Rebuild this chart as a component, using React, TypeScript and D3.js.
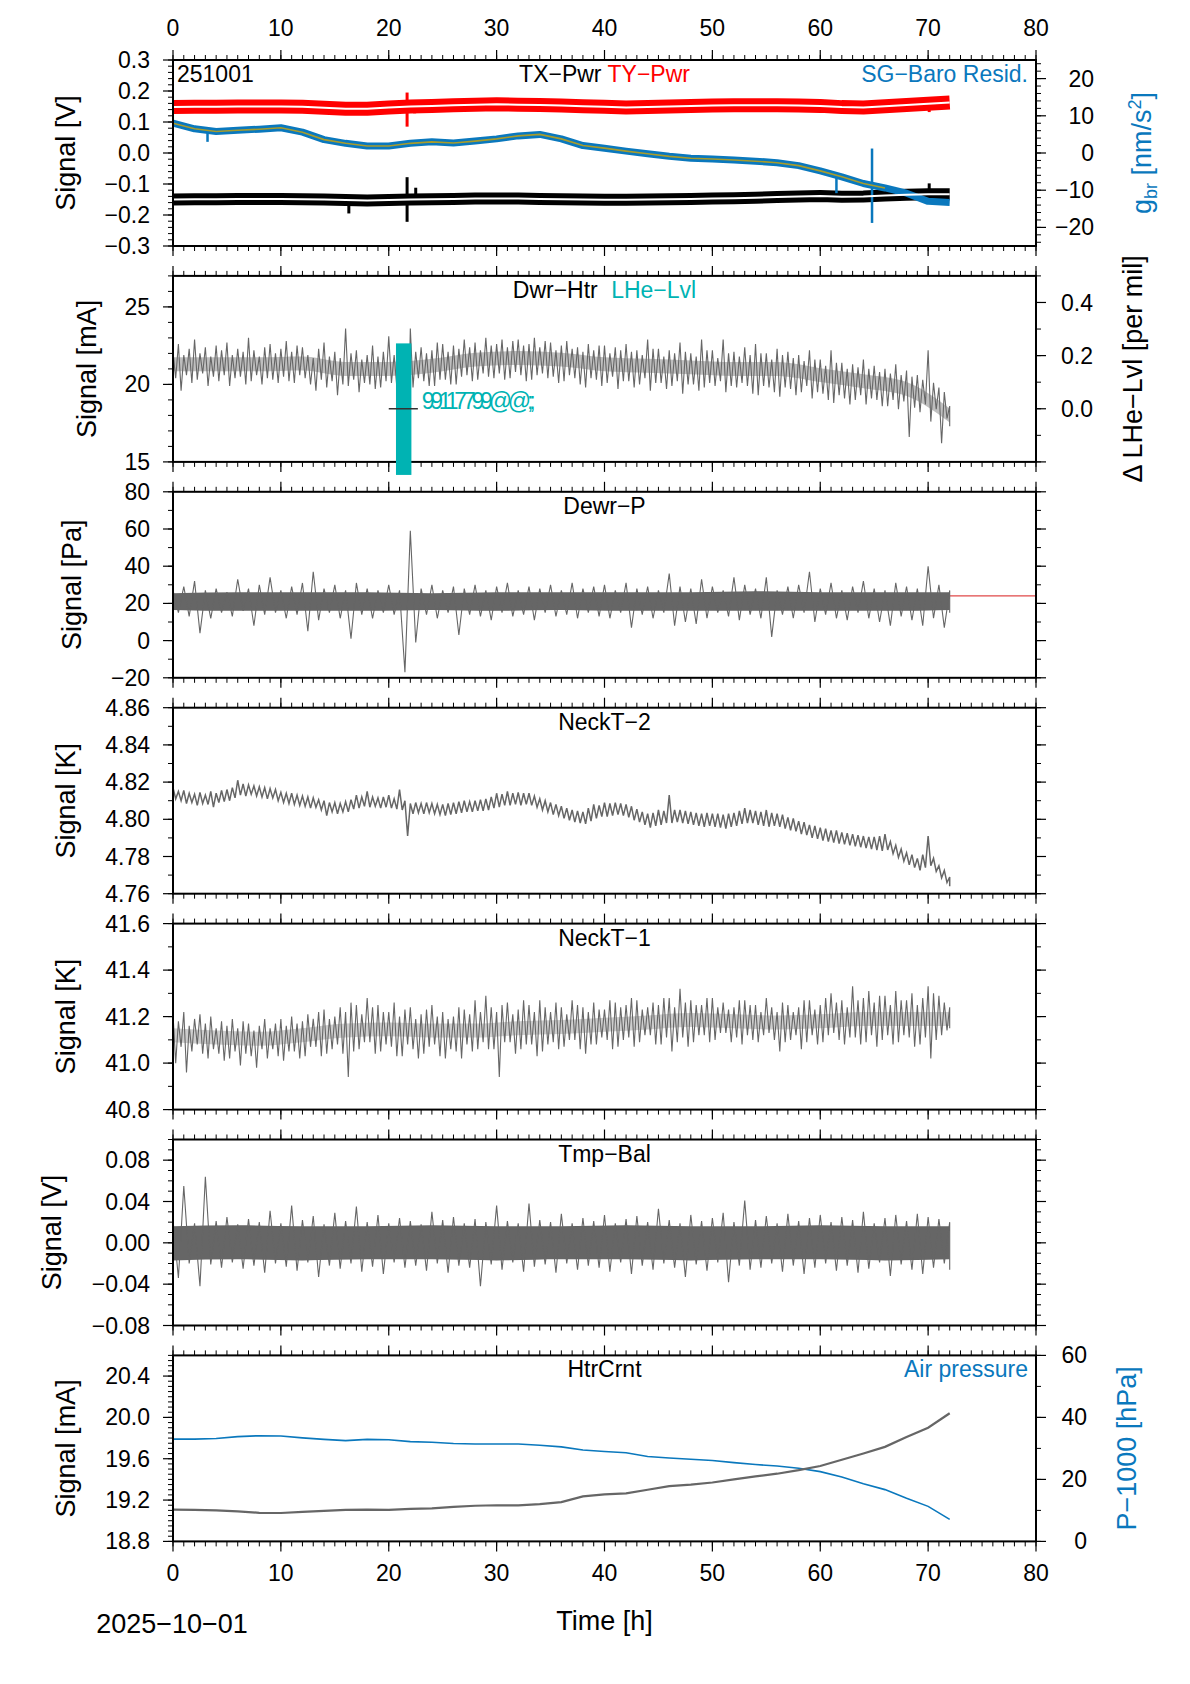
import React from "react";
import * as d3 from "d3";

// ---------------------------------------------------------------- style
const FONT = "'Liberation Sans', Arial, Helvetica, sans-serif";
const TICK_FS = 23;
const TITLE_FS = 23;
const LABEL_FS = 27;
const GRAY = "#666666";
const RED = "#ff0000";
const BLUE = "#0a78bd";
const TEAL = "#00b3b3";
const OLIVE = "#a89c2c";

const W = 1190;
const H = 1684;
const PLOT_L = 173;
const PLOT_R = 1036;
const PANEL_H = 186;
const PANEL_TOP0 = 60;
const PANEL_STEP = 215.9;

// ---------------------------------------------------------------- data
const HOURS_HALF = d3.range(0, 72.01, 0.5);
const HOURS_1 = d3.range(0, 73, 1);
const HOURS_2 = d3.range(0, 73, 2);
const HOURS_4 = d3.range(0, 73, 4);
const HOURS_6 = d3.range(0, 73, 6);
const X_TICK_LABELS = [0, 10, 20, 30, 40, 50, 60, 70, 80];

// Panel 1: TX-Pwr (black), TY-Pwr (red) [V], SG-Baro residual (blue) [nm/s^2], 2 h steps
const tyPwr = [0.148, 0.149, 0.149, 0.150, 0.150, 0.150, 0.149, 0.146, 0.143, 0.143, 0.147, 0.150, 0.152, 0.154, 0.156, 0.157, 0.156, 0.155, 0.153, 0.151, 0.149, 0.147, 0.148, 0.150, 0.152, 0.153, 0.154, 0.154, 0.154, 0.153, 0.152, 0.148, 0.147, 0.151, 0.155, 0.159, 0.163];
const txPwr = [-0.150, -0.149, -0.149, -0.148, -0.148, -0.148, -0.149, -0.150, -0.152, -0.153, -0.152, -0.150, -0.149, -0.148, -0.147, -0.147, -0.147, -0.148, -0.149, -0.150, -0.151, -0.151, -0.150, -0.149, -0.148, -0.147, -0.146, -0.144, -0.142, -0.140, -0.139, -0.141, -0.140, -0.137, -0.135, -0.133, -0.133];
const gbrResid = [8.0, 6.5, 5.8, 6.1, 6.4, 6.8, 5.6, 3.6, 2.6, 1.9, 1.9, 2.6, 3.0, 2.7, 3.2, 3.8, 4.6, 5.0, 3.8, 2.0, 1.3, 0.5, -0.2, -0.9, -1.4, -1.6, -1.9, -2.2, -2.6, -3.4, -4.8, -6.4, -8.2, -9.4, -10.8, -13.0, -13.3];
const GBR_SMOOTH_END = 66;
const tyPwrSpikes = [
  { t: 21.7, lo: 0.085, hi: 0.195 },
  { t: 22.4, lo: 0.128, hi: 0.165 },
  { t: 45.8, lo: 0.133, hi: 0.16 },
  { t: 70.1, lo: 0.132, hi: 0.175 },
];
const txPwrSpikes = [
  { t: 16.3, lo: -0.195, hi: -0.14 },
  { t: 21.7, lo: -0.222, hi: -0.078 },
  { t: 22.5, lo: -0.165, hi: -0.112 },
  { t: 70.1, lo: -0.15, hi: -0.098 },
];
const gbrSpikes = [
  { t: 3.2, lo: 3.0, hi: 6.0 },
  { t: 61.5, lo: -10.8, hi: -5.5 },
  { t: 64.8, lo: -18.8, hi: 1.2 },
];

// Panel 2: Dwr-Htr [mA] envelope, 0.5 h steps, dense core every 4 h; LHe-Lvl [per mil]
const dwrHi = [
  22.1, 22.6, 21.9, 22.3, 22.9, 22.0, 22.4, 21.8, 22.5, 22.2,
  22.7, 21.9, 22.3, 22.1, 23.0, 22.2, 21.8, 22.4, 22.6, 22.0,
  22.3, 22.8, 22.1, 22.5, 22.4, 21.9, 21.7, 22.3, 22.7, 21.8,
  22.1, 21.7, 23.6, 22.0, 22.2, 21.6, 21.9, 22.5, 21.8, 22.1,
  23.1, 21.9, 22.3, 21.8, 23.6, 22.1, 22.4, 22.0, 22.2, 22.7,
  22.6, 22.1, 22.5, 22.3, 22.9, 22.4, 22.7, 22.2, 23.0, 22.5,
  22.6, 22.9, 22.4, 22.8, 22.9, 22.5, 22.6, 23.0, 22.4, 22.8,
  22.7, 22.2, 22.5, 22.8, 22.3, 22.4, 22.1, 22.6, 22.2, 22.5,
  22.5, 22.0, 22.4, 22.2, 22.6, 22.1, 22.2, 21.9, 22.9, 22.3,
  22.3, 21.8, 22.2, 22.0, 22.7, 22.1, 22.0, 21.8, 22.9, 22.2,
  22.2, 21.7, 22.9, 22.0, 22.1, 21.8, 22.4, 21.9, 22.6, 22.0,
  22.0, 21.6, 22.3, 21.9, 22.1, 21.7, 21.9, 21.5, 22.2, 21.6,
  21.6, 21.2, 22.2, 21.4, 21.4, 21.0, 21.3, 21.1, 21.6, 21.0,
  21.2, 20.8, 21.0, 20.7, 21.3, 20.6, 20.9, 20.5, 20.6, 20.3,
  22.2, 20.1, 19.8, 19.5, 18.6];
const dwrLo = [
  20.4, 19.6, 20.6, 20.1, 20.3, 20.7, 19.9, 20.5, 20.2, 20.6,
  19.9, 20.4, 20.5, 20.0, 20.2, 20.6, 20.0, 20.4, 20.3, 20.1,
  20.5, 20.2, 20.1, 20.6, 20.4, 20.0, 19.6, 20.3, 19.8, 20.2,
  19.3, 20.0, 19.9, 20.3, 19.5, 20.1, 20.0, 19.7, 19.8, 20.2,
  20.1, 19.8, 20.3, 15.4, 19.8, 20.4, 20.2, 19.9, 19.9, 20.3,
  20.3, 20.0, 20.0, 20.5, 20.6, 20.2, 20.3, 20.7, 20.5, 20.4,
  20.7, 20.3, 20.4, 20.8, 20.6, 20.2, 20.3, 20.6, 20.7, 20.4,
  20.5, 20.1, 20.2, 20.6, 20.4, 20.0, 19.8, 20.4, 20.3, 19.9,
  20.1, 20.5, 19.7, 20.2, 20.2, 19.8, 20.0, 20.4, 19.6, 20.1,
  20.1, 19.7, 19.9, 20.2, 19.4, 20.0, 20.0, 19.6, 19.8, 20.1,
  19.9, 20.2, 19.5, 19.9, 19.8, 20.1, 19.9, 19.4, 19.3, 19.9,
  19.8, 19.5, 19.2, 19.8, 19.7, 19.3, 19.5, 19.9, 19.1, 19.5,
  19.4, 19.0, 18.8, 19.3, 19.1, 18.7, 19.0, 19.3, 18.7, 19.1,
  19.0, 18.6, 18.6, 19.0, 18.4, 18.9, 16.6, 18.5, 18.2, 18.7,
  17.6, 18.4, 16.2, 17.8, 17.3];
const dwrCoreHi = [21.75, 21.75, 21.75, 21.8, 21.45, 21.45, 21.65, 22.05, 22.15, 22.05, 21.75, 21.65, 21.55, 21.45, 21.45, 21.05, 20.65, 20.15, 18.45];
const dwrCoreLo = [20.85, 20.85, 20.85, 20.9, 20.55, 20.55, 20.75, 21.15, 21.25, 21.15, 20.85, 20.75, 20.65, 20.55, 20.55, 20.15, 19.75, 19.25, 17.55];
const lheBarT = [20.67, 22.1];
const lheBarV = [0.246, -0.249];
const lheMarkT = [20.0, 22.7];
const lheMarkV = 0.0;
const lheText = { t: 23.05, v: 0.0, label: "99117799@@;;" };

// Panel 3: Dewr-P [Pa] envelope, 1 h steps, dense core every 6 h, reference level
const dewrHi = [27, 29, 32, 27, 28, 26, 33, 28, 30, 34,
  27, 29, 31, 37, 28, 30, 27, 31, 28, 27,
  30, 27, 59, 28, 30, 27, 29, 28, 30, 27,
  29, 31, 27, 29, 28, 30, 27, 31, 28, 29,
  30, 27, 31, 28, 29, 27, 36, 29, 28, 33,
  29, 27, 34, 30, 28, 34, 27, 29, 30, 37,
  28, 31, 27, 29, 32, 28, 27, 31, 29, 28,
  40, 30, 27];
const dewrLo = [15, 13, 4, 12, 15, 13, 16, 8, 14, 15,
  12, 14, 5, 11, 15, 12, 1, 14, 12, 15,
  14, -17, -1, 14, 12, 15, 3, 14, 13, 11,
  15, 13, 14, 11, 15, 13, 14, 12, 15, 13,
  12, 15, 7, 14, 12, 15, 8, 10, 9, 12,
  15, 13, 11, 14, 12, 2, 14, 12, 15, 10,
  14, 12, 11, 15, 12, 10, 8, 13, 11, 8,
  12, 7, 15];
const dewrCoreHi = [25.5, 26, 26, 26, 25.5, 26, 26, 26, 26, 26.5, 26, 26, 26];
const dewrCoreLo = [16.5, 16, 16, 16, 16.5, 16, 16.5, 16, 16, 16, 16, 16, 16.5];
const dewrRefT = [0, 80];
const dewrRefV = [24, 24];

// Panel 4: NeckT-2 [K] envelope, 0.5 h steps
const neckT2Hi = [
  4.8170, 4.8150, 4.8155, 4.8140, 4.8135, 4.8145, 4.8130, 4.8150, 4.8140, 4.8155,
  4.8160, 4.8170, 4.8210, 4.8190, 4.8185, 4.8180, 4.8175, 4.8170, 4.8165, 4.8160,
  4.8145, 4.8140, 4.8140, 4.8130, 4.8125, 4.8120, 4.8115, 4.8105, 4.8100, 4.8090,
  4.8090, 4.8085, 4.8095, 4.8105, 4.8130, 4.8120, 4.8150, 4.8120, 4.8115, 4.8120,
  4.8130, 4.8110, 4.8160, 4.8100, 4.8085, 4.8090, 4.8085, 4.8090, 4.8085, 4.8080,
  4.8080, 4.8085, 4.8090, 4.8095, 4.8100, 4.8095, 4.8100, 4.8105, 4.8110, 4.8120,
  4.8140, 4.8135, 4.8150, 4.8140, 4.8145, 4.8140, 4.8140, 4.8125, 4.8110, 4.8100,
  4.8090, 4.8080, 4.8070, 4.8060, 4.8050, 4.8045, 4.8040, 4.8060, 4.8080, 4.8075,
  4.8090, 4.8085, 4.8090, 4.8085, 4.8080, 4.8070, 4.8055, 4.8040, 4.8030, 4.8035,
  4.8050, 4.8045, 4.8130, 4.8050, 4.8050, 4.8045, 4.8040, 4.8035, 4.8030, 4.8035,
  4.8030, 4.8030, 4.8025, 4.8030, 4.8035, 4.8045, 4.8060, 4.8050, 4.8045, 4.8040,
  4.8050, 4.8035, 4.8030, 4.8025, 4.8010, 4.8005, 4.7990, 4.7985, 4.7970, 4.7965,
  4.7955, 4.7950, 4.7940, 4.7940, 4.7930, 4.7925, 4.7920, 4.7915, 4.7910, 4.7905,
  4.7905, 4.7910, 4.7920, 4.7880, 4.7860, 4.7840, 4.7820, 4.7810, 4.7790, 4.7810,
  4.7910, 4.7790, 4.7750, 4.7725, 4.7690];
const neckT2Lo = [
  4.8110, 4.8100, 4.8085, 4.8090, 4.8075, 4.8085, 4.8080, 4.8065, 4.8090, 4.8095,
  4.8100, 4.8115, 4.8130, 4.8125, 4.8135, 4.8125, 4.8120, 4.8110, 4.8115, 4.8100,
  4.8090, 4.8085, 4.8080, 4.8075, 4.8070, 4.8060, 4.8065, 4.8050, 4.8020, 4.8040,
  4.8030, 4.8040, 4.8040, 4.8055, 4.8060, 4.8070, 4.8065, 4.8070, 4.8060, 4.8065,
  4.8060, 4.8055, 4.8050, 4.7910, 4.8030, 4.8035, 4.8030, 4.8035, 4.8030, 4.8025,
  4.8020, 4.8025, 4.8030, 4.8035, 4.8040, 4.8040, 4.8045, 4.8045, 4.8050, 4.8060,
  4.8065, 4.8075, 4.8075, 4.8080, 4.8075, 4.8080, 4.8075, 4.8065, 4.8050, 4.8040,
  4.8025, 4.8020, 4.8005, 4.7995, 4.7985, 4.7980, 4.7975, 4.7990, 4.8005, 4.8015,
  4.8015, 4.8020, 4.8025, 4.8020, 4.8010, 4.7995, 4.7985, 4.7970, 4.7955, 4.7965,
  4.7970, 4.7980, 4.7980, 4.7985, 4.7980, 4.7975, 4.7970, 4.7965, 4.7960, 4.7965,
  4.7960, 4.7955, 4.7950, 4.7960, 4.7965, 4.7975, 4.7980, 4.7980, 4.7970, 4.7965,
  4.7960, 4.7965, 4.7960, 4.7950, 4.7940, 4.7935, 4.7920, 4.7915, 4.7900, 4.7895,
  4.7885, 4.7880, 4.7875, 4.7870, 4.7865, 4.7860, 4.7855, 4.7850, 4.7845, 4.7840,
  4.7835, 4.7830, 4.7835, 4.7815, 4.7795, 4.7775, 4.7755, 4.7740, 4.7725, 4.7740,
  4.7750, 4.7720, 4.7685, 4.7660, 4.7640];

// Panel 5: NeckT-1 [K] envelope, 0.5 h steps, dense core every 4 h
const neckT1Hi = [
  41.21, 41.18, 41.22, 41.16, 41.19, 41.21, 41.17, 41.20, 41.15, 41.18,
  41.16, 41.19, 41.15, 41.18, 41.17, 41.14, 41.16, 41.19, 41.15, 41.17,
  41.19, 41.16, 41.20, 41.17, 41.18, 41.21, 41.19, 41.22, 41.23, 41.19,
  41.20, 41.24, 41.22, 41.26, 41.25, 41.21, 41.28, 41.24, 41.25, 41.22,
  41.22, 41.26, 41.20, 41.23, 41.24, 41.19, 41.21, 41.23, 41.25, 41.20,
  41.22, 41.19, 41.20, 41.24, 41.23, 41.21, 41.27, 41.22, 41.29, 41.24,
  41.22, 41.25, 41.26, 41.21, 41.23, 41.27, 41.25, 41.22, 41.27, 41.24,
  41.22, 41.26, 41.24, 41.21, 41.27, 41.25, 41.24, 41.22, 41.26, 41.23,
  41.23, 41.27, 41.26, 41.24, 41.25, 41.28, 41.27, 41.23, 41.24, 41.26,
  41.25, 41.28, 41.28, 41.24, 41.32, 41.26, 41.27, 41.25, 41.25, 41.28,
  41.28, 41.24, 41.26, 41.23, 41.24, 41.27, 41.27, 41.25, 41.25, 41.22,
  41.28, 41.24, 41.22, 41.26, 41.25, 41.22, 41.24, 41.27, 41.27, 41.23,
  41.25, 41.28, 41.30, 41.26, 41.27, 41.24, 41.33, 41.27, 41.28, 41.31,
  41.26, 41.29, 41.29, 41.25, 41.31, 41.27, 41.27, 41.30, 41.25, 41.28,
  41.33, 41.30, 41.29, 41.26, 41.24];
const neckT1Lo = [
  41.00, 41.07, 40.96, 41.05, 41.08, 41.04, 41.02, 41.06, 41.04, 41.01,
  41.02, 41.05, 40.99, 41.04, 41.03, 40.98, 41.06, 41.02, 41.06, 41.03,
  41.01, 41.05, 41.05, 41.02, 41.03, 41.07, 41.07, 41.03, 41.04, 41.06,
  41.08, 41.04, 40.94, 41.05, 41.06, 41.09, 41.09, 41.04, 41.05, 41.08,
  41.07, 41.03, 41.03, 41.08, 41.06, 41.02, 41.04, 41.07, 41.08, 41.03,
  41.02, 41.06, 41.05, 41.02, 41.08, 41.05, 41.06, 41.09, 41.06, 41.06,
  40.94, 41.09, 41.09, 41.04, 41.06, 41.08, 41.08, 41.03, 41.05, 41.08,
  41.09, 41.06, 41.07, 41.10, 41.10, 41.06, 41.04, 41.08, 41.08, 41.11,
  41.10, 41.06, 41.07, 41.10, 41.11, 41.07, 41.09, 41.12, 41.12, 41.08,
  41.08, 41.11, 41.05, 41.09, 41.11, 41.07, 41.09, 41.12, 41.12, 41.09,
  41.10, 41.13, 41.13, 41.09, 41.11, 41.08, 41.12, 41.10, 41.09, 41.12,
  41.13, 41.10, 41.05, 41.09, 41.10, 41.12, 41.06, 41.09, 41.12, 41.08,
  41.09, 41.12, 41.13, 41.10, 41.08, 41.11, 41.11, 41.08, 41.09, 41.12,
  41.07, 41.10, 41.12, 41.08, 41.09, 41.12, 41.11, 41.07, 41.08, 41.11,
  41.02, 41.10, 41.12, 41.14, 41.15];
const neckT1CoreHi = [41.15, 41.14, 41.135, 41.15, 41.17, 41.175, 41.17, 41.17, 41.18, 41.185, 41.195, 41.205, 41.215, 41.21, 41.205, 41.21, 41.22, 41.22, 41.22];
const neckT1CoreLo = [41.09, 41.08, 41.075, 41.09, 41.11, 41.115, 41.11, 41.11, 41.12, 41.125, 41.135, 41.145, 41.155, 41.15, 41.145, 41.15, 41.16, 41.16, 41.16];

// Panel 6: Tmp-Bal [V] envelope, 1 h steps, dense core every 6 h
const tmpHi = [0.022, 0.055, 0.019, 0.064, 0.021, 0.025, 0.018, 0.023, 0.020, 0.031,
  0.019, 0.036, 0.022, 0.026, 0.018, 0.029, 0.021, 0.035, 0.020, 0.027,
  0.019, 0.024, 0.021, 0.018, 0.030, 0.022, 0.025, 0.019, 0.023, 0.020,
  0.036, 0.021, 0.019, 0.038, 0.022, 0.020, 0.028, 0.019, 0.024, 0.021,
  0.027, 0.019, 0.023, 0.026, 0.020, 0.033, 0.022, 0.019, 0.027, 0.021,
  0.024, 0.029, 0.020, 0.041, 0.022, 0.026, 0.019, 0.028, 0.021, 0.024,
  0.027, 0.020, 0.025, 0.022, 0.030, 0.019, 0.024, 0.027, 0.021, 0.028,
  0.025, 0.023, 0.020];
const tmpLo = [-0.034, -0.020, -0.042, -0.021, -0.024, -0.019, -0.025, -0.022, -0.029, -0.020,
  -0.023, -0.027, -0.019, -0.033, -0.022, -0.025, -0.020, -0.028, -0.023, -0.030,
  -0.019, -0.024, -0.022, -0.027, -0.020, -0.029, -0.022, -0.024, -0.042, -0.021,
  -0.026, -0.019, -0.028, -0.023, -0.021, -0.029, -0.020, -0.026, -0.022, -0.024,
  -0.028, -0.019, -0.030, -0.022, -0.026, -0.020, -0.024, -0.033, -0.021, -0.027,
  -0.019, -0.038, -0.022, -0.026, -0.024, -0.020, -0.028, -0.022, -0.030, -0.024,
  -0.020, -0.027, -0.022, -0.029, -0.025, -0.019, -0.032, -0.021, -0.026, -0.030,
  -0.024, -0.020, -0.026];
const tmpCoreHi = [0.016, 0.017, 0.016, 0.016, 0.017, 0.016, 0.016, 0.017, 0.016, 0.016, 0.017, 0.016, 0.016];
const tmpCoreLo = [-0.017, -0.016, -0.017, -0.016, -0.016, -0.017, -0.016, -0.016, -0.017, -0.016, -0.016, -0.017, -0.016];

// Panel 7: HtrCrnt [mA] and air pressure P-1000 [hPa], 2 h steps
const htrCrnt = [19.108, 19.105, 19.100, 19.090, 19.077, 19.075, 19.085, 19.095, 19.105, 19.108, 19.105, 19.115, 19.120, 19.135, 19.145, 19.150, 19.148, 19.160, 19.180, 19.235, 19.255, 19.265, 19.300, 19.335, 19.350, 19.370, 19.400, 19.430, 19.455, 19.490, 19.530, 19.590, 19.650, 19.715, 19.810, 19.900, 20.040];
const airPressure = [33.0, 33.0, 33.2, 33.8, 34.1, 34.0, 33.4, 32.9, 32.5, 32.9, 32.8, 32.2, 32.0, 31.6, 31.4, 31.4, 31.4, 31.0, 30.5, 29.5, 29.0, 28.6, 27.4, 26.9, 26.5, 26.1, 25.4, 24.8, 24.3, 23.6, 22.5, 20.8, 18.6, 16.7, 13.9, 11.3, 7.1];

// y-axis tick labels
const P1_LEFT_LABELS = [0.3, 0.2, 0.1, 0, -0.1, -0.2, -0.3];
const P1_RIGHT_LABELS = [20, 10, 0, -10, -20];
const P2_LEFT_LABELS = [25, 20, 15];
const P2_RIGHT_LABELS = [0.4, 0.2, 0.0];
const P3_LABELS = [80, 60, 40, 20, 0, -20];
const P4_LABELS = [4.86, 4.84, 4.82, 4.80, 4.78, 4.76];
const P5_LABELS = [41.6, 41.4, 41.2, 41.0, 40.8];
const P6_LABELS = [0.08, 0.04, 0.0, -0.04, -0.08];
const P7_LEFT_LABELS = [20.4, 20.0, 19.6, 19.2, 18.8];
const P7_RIGHT_LABELS = [60, 40, 20, 0];

// ---------------------------------------------------------------- helpers
type Pt = [number, number];
const zip = (t: number[], v: number[]): Pt[] => t.map((ti, i) => [ti, v[i]] as Pt);
// envelope drawn as a saw line: max of a step at its start, min half a step later
const zigzag = (t: number[], hi: number[], lo: number[], half: number): Pt[] =>
  t.flatMap((ti, i) => [[ti, hi[i]] as Pt, [i < t.length - 1 ? ti + half : ti, lo[i]] as Pt]);
const multiples = (d0: number, d1: number, step: number) => {
  const a = Math.min(d0, d1), b = Math.max(d0, d1);
  const k0 = Math.ceil(a / step - 1e-6), k1 = Math.floor(b / step + 1e-6);
  return d3.range(k0, k1 + 1).map((k) => +(k * step).toFixed(8));
};

const xScale = d3.scaleLinear().domain([0, 80]).range([PLOT_L, PLOT_R]);
const panelTop = (i: number) => PANEL_TOP0 + i * PANEL_STEP;
const yScale = (i: number, dom: [number, number]) =>
  d3.scaleLinear().domain(dom).range([panelTop(i) + PANEL_H, panelTop(i)]);

function linePath(pts: Pt[], y: d3.ScaleLinear<number, number>) {
  return d3.line<Pt>().x((d) => xScale(d[0])).y((d) => y(d[1]))(pts) || "";
}
function areaPath(t: number[], hi: number[], lo: number[], y: d3.ScaleLinear<number, number>) {
  return (
    d3
      .area<number>()
      .x((d) => xScale(d))
      .y0((_, i) => y(lo[i]))
      .y1((_, i) => y(hi[i]))
      .curve(d3.curveMonotoneX)(t) || ""
  );
}

function YAxis(props: {
  y: d3.ScaleLinear<number, number>;
  side: "left" | "right";
  major: number;
  minor: number;
  labels?: number[];
  fmt?: (v: number) => string;
  labelX?: number;
}) {
  const { y, side, major, minor, labels, fmt, labelX } = props;
  const x0 = side === "left" ? PLOT_L : PLOT_R;
  const dir = side === "left" ? -1 : 1;
  const [d0, d1] = y.domain();
  return (
    <g>
      {multiples(d0, d1, minor).map((v) => (
        <line key={"mi" + v} x1={x0} x2={x0 + dir * 5} y1={y(v)} y2={y(v)} stroke="#000" strokeWidth={1} />
      ))}
      {multiples(d0, d1, major).map((v) => (
        <line key={"ma" + v} x1={x0} x2={x0 + dir * 10} y1={y(v)} y2={y(v)} stroke="#000" strokeWidth={1.2} />
      ))}
      {labels &&
        fmt &&
        labels.map((v) => (
          <text key={"lb" + v} x={labelX} y={y(v)} dy="0.35em" textAnchor="end" fontSize={TICK_FS}>
            {fmt(v)}
          </text>
        ))}
    </g>
  );
}

function XTicks({ top }: { top: number }) {
  const bottom = top + PANEL_H;
  const minors = multiples(0, 80, 1);
  const majors = multiples(0, 80, 10);
  return (
    <g>
      {minors.map((v) => (
        <g key={"xm" + v}>
          <line x1={xScale(v)} x2={xScale(v)} y1={top} y2={top - 5} stroke="#000" strokeWidth={1} />
          <line x1={xScale(v)} x2={xScale(v)} y1={bottom} y2={bottom + 5} stroke="#000" strokeWidth={1} />
        </g>
      ))}
      {majors.map((v) => (
        <g key={"xM" + v}>
          <line x1={xScale(v)} x2={xScale(v)} y1={top} y2={top - 10} stroke="#000" strokeWidth={1.2} />
          <line x1={xScale(v)} x2={xScale(v)} y1={bottom} y2={bottom + 10} stroke="#000" strokeWidth={1.2} />
        </g>
      ))}
    </g>
  );
}

function Frame({ top }: { top: number }) {
  return <rect x={PLOT_L} y={top} width={PLOT_R - PLOT_L} height={PANEL_H} fill="none" stroke="#000" strokeWidth={2} />;
}

function LeftLabel({ i, x, text }: { i: number; x: number; text: string }) {
  const cy = panelTop(i) + PANEL_H / 2;
  return (
    <text transform={`translate(${x},${cy}) rotate(-90)`} textAnchor="middle" dy="0.35em" fontSize={LABEL_FS}>
      {text}
    </text>
  );
}

function Title({ i, children }: { i: number; children: React.ReactNode }) {
  return (
    <text x={(PLOT_L + PLOT_R) / 2} y={panelTop(i) + 22} textAnchor="middle" fontSize={TITLE_FS}>
      {children}
    </text>
  );
}

const f1 = d3.format(".1f");
const f2 = d3.format(".2f");
const fd = d3.format("d");

// ---------------------------------------------------------------- app
export default function App() {
  const tops = d3.range(7).map(panelTop);

  const y1L = yScale(0, [-0.3, 0.3]);
  const y1R = yScale(0, [-25, 25]);
  const y2L = yScale(1, [15, 27]);
  const y2R = yScale(1, [-0.2, 0.5]);
  const y3 = yScale(2, [-20, 80]);
  const y4 = yScale(3, [4.76, 4.86]);
  const y5 = yScale(4, [40.8, 41.6]);
  const y6 = yScale(5, [-0.08, 0.1]);
  const y7L = yScale(6, [18.8, 20.6]);
  const y7R = yScale(6, [0, 60]);

  const gbrPts = zip(HOURS_2, gbrResid);
  const gbrSmooth = gbrPts.filter((p) => p[0] <= GBR_SMOOTH_END);

  const spikeLines = (
    sp: { t: number; lo: number; hi: number }[],
    y: d3.ScaleLinear<number, number>,
    color: string,
    w: number
  ) =>
    sp.map((s, k) => (
      <line key={k} x1={xScale(s.t)} x2={xScale(s.t)} y1={y(s.lo)} y2={y(s.hi)} stroke={color} strokeWidth={w} />
    ));

  return (
    <svg
      width={W}
      height={H}
      viewBox={`0 0 ${W} ${H}`}
      style={{ position: "absolute", left: 0, top: 0, display: "block", background: "#fff" }}
      fontFamily={FONT}
    >
      <rect x={0} y={0} width={W} height={H} fill="#fff" />
      <defs>
        {tops.map((t, i) => (
          <clipPath id={"clip" + i} key={i}>
            <rect x={PLOT_L} y={t} width={PLOT_R - PLOT_L} height={PANEL_H} />
          </clipPath>
        ))}
      </defs>

      {/* ---------------- Panel 1 */}
      <g clipPath="url(#clip0)">
        <path d={linePath(zip(HOURS_2, tyPwr), y1L)} fill="none" stroke={RED} strokeWidth={14} strokeLinejoin="round" />
        {spikeLines(tyPwrSpikes, y1L, RED, 3)}
        <path d={linePath(zip(HOURS_2, txPwr), y1L)} fill="none" stroke="#000" strokeWidth={12} strokeLinejoin="round" />
        {spikeLines(txPwrSpikes, y1L, "#000", 3)}
        <path d={linePath(gbrPts, y1R)} fill="none" stroke={BLUE} strokeWidth={7} strokeLinejoin="round" />
        {spikeLines(gbrSpikes, y1R, BLUE, 2.5)}
        <path d={linePath(zip(HOURS_2, tyPwr), y1L)} fill="none" stroke="#fff" strokeWidth={2} />
        <path d={linePath(zip(HOURS_2, txPwr), y1L)} fill="none" stroke="#fff" strokeWidth={2} />
        <path d={linePath(gbrSmooth, y1R)} fill="none" stroke={OLIVE} strokeWidth={1.6} />
      </g>
      <text x={177} y={tops[0] + 22} fontSize={TITLE_FS}>251001</text>
      <Title i={0}>
        <tspan fill="#000">TX−Pwr</tspan>
        <tspan fill={RED}>{" TY−Pwr"}</tspan>
      </Title>
      <text x={1028} y={tops[0] + 22} textAnchor="end" fontSize={TITLE_FS} fill={BLUE}>SG−Baro Resid.</text>
      <YAxis y={y1L} side="left" major={0.1} minor={0.02} labels={P1_LEFT_LABELS} fmt={f1} labelX={150} />
      <YAxis y={y1R} side="right" major={10} minor={2} labels={P1_RIGHT_LABELS} fmt={fd} labelX={1094} />
      <LeftLabel i={0} x={66} text="Signal [V]" />
      <text
        transform={`translate(1142,${tops[0] + PANEL_H / 2}) rotate(-90)`}
        textAnchor="middle"
        dy="0.35em"
        fontSize={LABEL_FS}
        fill={BLUE}
      >
        <tspan>g</tspan>
        <tspan dy={6} fontSize={18}>br</tspan>
        <tspan dy={-6}>{" [nm/s"}</tspan>
        <tspan dy={-10} fontSize={18}>2</tspan>
        <tspan dy={10}>]</tspan>
      </text>

      {/* ---------------- Panel 2 */}
      <g clipPath="url(#clip1)">
        <path d={areaPath(HOURS_4, dwrCoreHi, dwrCoreLo, y2L)} fill={GRAY} fillOpacity={0.42} stroke="none" />
        <path d={linePath(zigzag(HOURS_HALF, dwrHi, dwrLo, 0.25), y2L)} fill="none" stroke={GRAY} strokeWidth={1.1} />
      </g>
      <Title i={1}>
        <tspan fill="#000">Dwr−Htr</tspan>
        <tspan fill={TEAL} dx={7}>{" LHe−Lvl"}</tspan>
      </Title>
      <YAxis y={y2L} side="left" major={5} minor={1} labels={P2_LEFT_LABELS} fmt={fd} labelX={150} />
      <YAxis y={y2R} side="right" major={0.2} minor={0.1} labels={P2_RIGHT_LABELS} fmt={f1} labelX={1093} />
      <LeftLabel i={1} x={87} text="Signal [mA]" />
      <text
        transform={`translate(1133,${tops[1] + PANEL_H / 2}) rotate(-90)`}
        textAnchor="middle"
        dy="0.35em"
        fontSize={LABEL_FS}
      >
        Δ LHe−Lvl [per mil]
      </text>

      {/* ---------------- Panel 3 */}
      <g clipPath="url(#clip2)">
        <path d={linePath(zip(dewrRefT, dewrRefV), y3)} fill="none" stroke="#e04848" strokeWidth={1.3} />
        <path d={areaPath(HOURS_6, dewrCoreHi, dewrCoreLo, y3)} fill={GRAY} stroke="none" />
        <path d={linePath(zigzag(HOURS_1, dewrHi, dewrLo, 0.5), y3)} fill="none" stroke={GRAY} strokeWidth={1.1} />
      </g>
      <Title i={2}>Dewr−P</Title>
      <YAxis y={y3} side="left" major={20} minor={10} labels={P3_LABELS} fmt={fd} labelX={150} />
      <YAxis y={y3} side="right" major={20} minor={10} />
      <LeftLabel i={2} x={72} text="Signal [Pa]" />

      {/* ---------------- Panel 4 */}
      <g clipPath="url(#clip3)">
        <path d={linePath(zigzag(HOURS_HALF, neckT2Hi, neckT2Lo, 0.25), y4)} fill="none" stroke={GRAY} strokeWidth={1.5} />
      </g>
      <Title i={3}>NeckT−2</Title>
      <YAxis y={y4} side="left" major={0.02} minor={0.01} labels={P4_LABELS} fmt={f2} labelX={150} />
      <YAxis y={y4} side="right" major={0.02} minor={0.01} />
      <LeftLabel i={3} x={66} text="Signal [K]" />

      {/* ---------------- Panel 5 */}
      <g clipPath="url(#clip4)">
        <path d={areaPath(HOURS_4, neckT1CoreHi, neckT1CoreLo, y5)} fill={GRAY} fillOpacity={0.32} stroke="none" />
        <path d={linePath(zigzag(HOURS_HALF, neckT1Hi, neckT1Lo, 0.25), y5)} fill="none" stroke={GRAY} strokeWidth={1.1} />
      </g>
      <Title i={4}>NeckT−1</Title>
      <YAxis y={y5} side="left" major={0.2} minor={0.1} labels={P5_LABELS} fmt={f1} labelX={150} />
      <YAxis y={y5} side="right" major={0.2} minor={0.1} />
      <LeftLabel i={4} x={66} text="Signal [K]" />

      {/* ---------------- Panel 6 */}
      <g clipPath="url(#clip5)">
        <path d={areaPath(HOURS_6, tmpCoreHi, tmpCoreLo, y6)} fill={GRAY} stroke="none" />
        <path d={linePath(zigzag(HOURS_1, tmpHi, tmpLo, 0.5), y6)} fill="none" stroke={GRAY} strokeWidth={1.1} />
      </g>
      <Title i={5}>Tmp−Bal</Title>
      <YAxis y={y6} side="left" major={0.04} minor={0.01} labels={P6_LABELS} fmt={f2} labelX={150} />
      <YAxis y={y6} side="right" major={0.04} minor={0.01} />
      <LeftLabel i={5} x={52} text="Signal [V]" />

      {/* ---------------- Panel 7 */}
      <g clipPath="url(#clip6)">
        <path d={linePath(zip(HOURS_2, airPressure), y7R)} fill="none" stroke={BLUE} strokeWidth={1.6} />
        <path d={linePath(zip(HOURS_2, htrCrnt), y7L)} fill="none" stroke={GRAY} strokeWidth={2.2} />
      </g>
      <Title i={6}>HtrCrnt</Title>
      <text x={1028} y={tops[6] + 22} textAnchor="end" fontSize={TITLE_FS} fill={BLUE}>Air pressure</text>
      <YAxis y={y7L} side="left" major={0.4} minor={0.05} labels={P7_LEFT_LABELS} fmt={f1} labelX={150} />
      <YAxis y={y7R} side="right" major={20} minor={10} labels={P7_RIGHT_LABELS} fmt={fd} labelX={1087} />
      <LeftLabel i={6} x={66} text="Signal [mA]" />
      <text
        transform={`translate(1127,${tops[6] + PANEL_H / 2}) rotate(-90)`}
        textAnchor="middle"
        dy="0.35em"
        fontSize={LABEL_FS}
        fill={BLUE}
      >
        P−1000 [hPa]
      </text>

      {/* ---------------- frames and x ticks */}
      {tops.map((t, i) => (
        <g key={"fr" + i}>
          <XTicks top={t} />
          <Frame top={t} />
        </g>
      ))}

      {/* LHe level marker (drawn over the frame, like the reference) */}
      <rect
        x={xScale(lheBarT[0])}
        y={y2R(lheBarV[0])}
        width={xScale(lheBarT[1]) - xScale(lheBarT[0])}
        height={y2R(lheBarV[1]) - y2R(lheBarV[0])}
        fill={TEAL}
      />
      <line
        x1={xScale(lheMarkT[0])}
        x2={xScale(lheMarkT[1])}
        y1={y2R(lheMarkV)}
        y2={y2R(lheMarkV)}
        stroke="#333"
        strokeWidth={1.5}
      />
      <text x={xScale(lheText.t)} y={y2R(lheText.v)} fontSize={TITLE_FS} fill={TEAL} letterSpacing={-4.2}>
        {lheText.label}
      </text>

      {/* x tick labels */}
      {X_TICK_LABELS.map((v) => (
        <text key={"xt" + v} x={xScale(v)} y={tops[0] - 32} dy="0.35em" textAnchor="middle" fontSize={TICK_FS}>
          {v}
        </text>
      ))}
      {X_TICK_LABELS.map((v) => (
        <text key={"xb" + v} x={xScale(v)} y={tops[6] + PANEL_H + 32} dy="0.35em" textAnchor="middle" fontSize={TICK_FS}>
          {v}
        </text>
      ))}
      <text x={(PLOT_L + PLOT_R) / 2} y={1630} textAnchor="middle" fontSize={LABEL_FS}>Time [h]</text>
      <text x={172} y={1633} textAnchor="middle" fontSize={LABEL_FS}>2025−10−01</text>
    </svg>
  );
}
